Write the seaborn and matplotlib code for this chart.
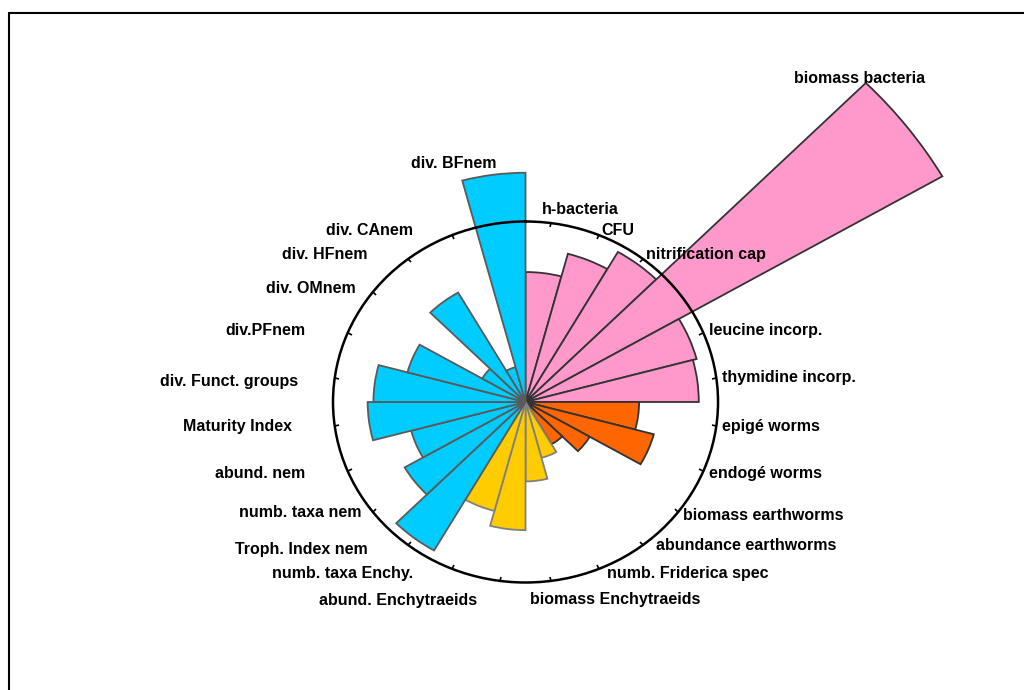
import numpy as np
import matplotlib
matplotlib.use('Agg')
import matplotlib.pyplot as plt
import seaborn as sns
from matplotlib.lines import Line2D

#Soil biota indicators, clockwise from north
labels = ['h-bacteria', 'CFU', 'nitrification cap', 'biomass bacteria',
          'leucine incorp.', 'thymidine incorp.', 'epigé worms', 'endogé worms',
          'biomass earthworms', 'abundance earthworms', 'numb. Friderica spec',
          'biomass Enchytraeids', 'abund. Enchytraeids', 'numb. taxa Enchy.',
          'Troph. Index nem', 'numb. taxa nem', 'abund. nem', 'Maturity Index',
          'div. Funct. groups', 'div.PFnem', 'div. OMnem', 'div. HFnem',
          'div. CAnem', 'div. BFnem']
values = [0.72, 0.85, 0.96, 2.50, 0.92, 0.90,
          0.59, 0.69, 0.385, 0.27,
          0.32, 0.44, 0.71, 0.625,
          0.95, 0.725, 0.615, 0.82, 0.79, 0.635, 0.26, 0.70, 0.20, 1.27]
groups = ['bacteria'] * 6 + ['earthworms'] * 4 + ['enchytraeids'] * 4 + ['nematodes'] * 10

#Colours per group
fill = {'bacteria': '#FF99CC', 'earthworms': '#FF6600',
        'enchytraeids': '#FFCC00', 'nematodes': '#00CCFF'}
edge = {'bacteria': '#333333', 'earthworms': '#333333',
        'enchytraeids': '#808080', 'nematodes': '#5a5a5a'}

#Hand nudges for a few labels (pixels, x right / y down)
nudge = {'h-bacteria': (-10, -8), 'abundance earthworms': (10, -4),
         'numb. Friderica spec': (6, 0), 'biomass Enchytraeids': (-21, 13),
         'abund. Enchytraeids': (14, 14), 'numb. taxa nem': (30, -3),
         'div. Funct. groups': (6, 4), 'div. OMnem': (25, 0)}

sns.set_style('white')
plt.rcParams['font.family'] = ['Liberation Sans', 'DejaVu Sans']

n = len(labels)
step = 2 * np.pi / n
theta = np.arange(n) * step + step / 2

fig = plt.figure(figsize=(10.24, 6.9), dpi=100)
ax = fig.add_axes([0.3252, 0.1558, 0.376, 0.5232], projection='polar')
ax.set_aspect('auto')
ax.set_theta_zero_location('N')
ax.set_theta_direction(-1)

ax.bar(theta, values, width=step, align='center',
       color=[fill[g] for g in groups],
       edgecolor=[edge[g] for g in groups],
       linewidth=1.3, clip_on=False, zorder=1)

ax.set_ylim(0, 1)
ax.set_yticks([])
ax.set_xticks(theta)
ax.set_xticklabels([])
ax.grid(False)
ax.tick_params(axis='x', which='major', direction='in', length=3, width=1.2,
               color='black', bottom=True, top=True)
ax.spines['polar'].set_linewidth(1.8)
ax.spines['polar'].set_color('black')
ax.spines['polar'].set_zorder(3)

#Category labels
px = 0.72
style = dict(fontsize=11.5, fontweight='bold', color='black',
             textcoords='offset points', annotation_clip=False)
for t, lab, v in zip(theta, labels, values):
    right_side = np.sin(t) > 0
    if v > 2:
        ax.annotate(lab, xy=(t - step / 2, v), xytext=(-6 * px, -3 * px),
                    ha='center', va='bottom', **style)
    elif v > 1:
        ax.annotate(lab, xy=(t, v), xytext=(3 * px, 4 * px),
                    ha='right', va='bottom', **style)
    else:
        dx, dy = nudge.get(lab, (0, 0))
        base = 0 if right_side else -37
        ax.annotate(lab, xy=(t, 1.03), xytext=((base + dx) * px, -dy * px),
                    ha='left' if right_side else 'right', va='center', **style)

#Partial outer frame
top = 1 - 13 / 690
left = 9 / 1024
fig.add_artist(Line2D([left, 1], [top, top], transform=fig.transFigure,
                      color='black', linewidth=1.5))
fig.add_artist(Line2D([left, left], [0, top], transform=fig.transFigure,
                      color='black', linewidth=1.5))

fig.savefig('out.png', dpi=100)
